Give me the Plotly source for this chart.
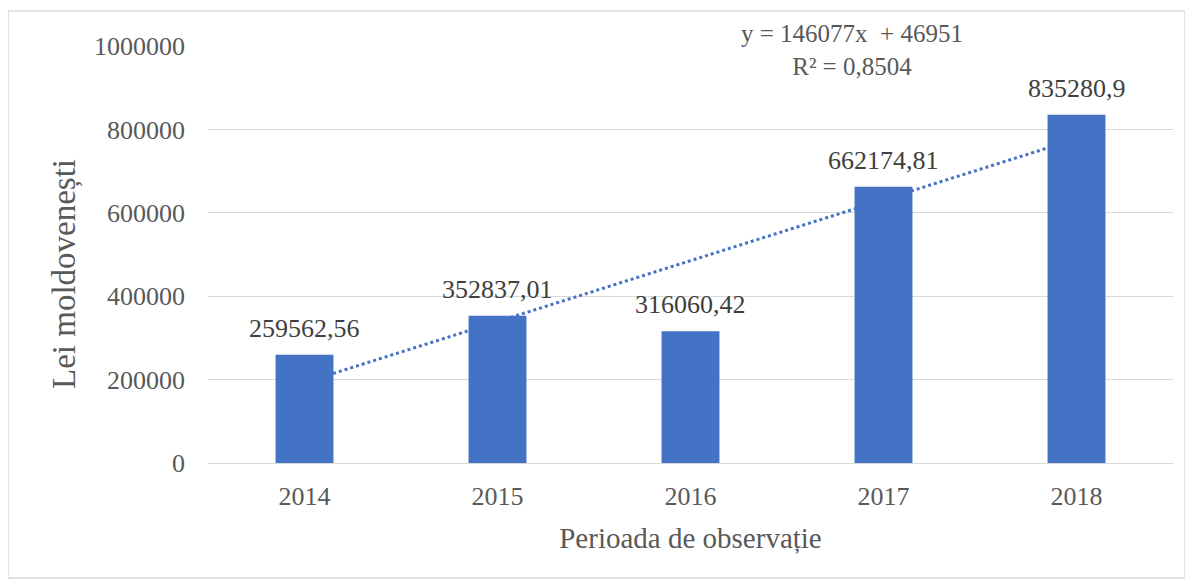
import numpy as np
import plotly.graph_objects as go

years = ["2014", "2015", "2016", "2017", "2018"]
values = [259562.56, 352837.01, 316060.42, 662174.81, 835280.9]
value_labels = ["259562,56", "352837,01", "316060,42", "662174,81", "835280,9"]
y_ticks = [0, 200000, 400000, 600000, 800000, 1000000]

# Linear trend, same as the Excel trendline (x = 1..n)
xs = np.arange(1, len(values) + 1)
slope, intercept = np.polyfit(xs, values, 1)
fitted = slope * xs + intercept
ss_res = np.sum((np.array(values) - fitted) ** 2)
ss_tot = np.sum((np.array(values) - np.mean(values)) ** 2)
r2 = 1 - ss_res / ss_tot

bar_color = "#4472C4"
grid_color = "#D9D9D9"
text_color = "#595959"
font_family = "Liberation Serif, Times New Roman, serif"

# the page body has an 8px margin, so the figure is drawn 8px in
off = 8
W, H = 1193 - off, 585 - off
left, right, top, bottom = 208 - off, 20, 46 - off, 122
plot_w = W - left - right
plot_h = H - top - bottom


def px_x(x):
    # reference pixel x -> paper coordinate
    return (x - off - left) / plot_w


def px_y(y):
    # reference pixel y -> paper coordinate
    return (H - bottom - (y - off)) / plot_h


fig = go.Figure()

# trendline on the base axes so the bars (overlay axes) cover it
fig.add_trace(
    go.Scatter(
        x=xs,
        y=fitted,
        mode="lines",
        line=dict(color=bar_color, width=3, dash="dot"),
        hoverinfo="skip",
        showlegend=False,
        xaxis="x",
        yaxis="y",
    )
)

fig.add_trace(
    go.Bar(
        x=xs,
        y=values,
        marker=dict(color=bar_color, line=dict(width=0)),
        showlegend=False,
        xaxis="x2",
        yaxis="y2",
    )
)

# value labels above the bars
for xv, yv, lab in zip(xs, values, value_labels):
    fig.add_annotation(
        x=xv,
        y=yv,
        xref="x2",
        yref="y2",
        text=lab,
        showarrow=False,
        yanchor="bottom",
        yshift=10,
        font=dict(family=font_family, size=26, color="#404040"),
    )

x_range = [0.5, len(values) + 0.5]
y_range = [0, 1000000]

fig.update_layout(
    width=W,
    height=H,
    margin={"l": left, "r": right, "t": top, "b": bottom, "autoexpand": False},
    paper_bgcolor="white",
    plot_bgcolor="white",
    bargap=0.7,
    font=dict(family=font_family, color=text_color),
    xaxis=dict(
        range=x_range,
        tickvals=list(xs),
        ticktext=years,
        tickfont=dict(size=26, color=text_color),
        showgrid=False,
        showline=True,
        linecolor=grid_color,
        linewidth=1,
        ticks="",
        ticklabelstandoff=10,
        automargin=False,
        title=dict(
            text="Perioada de observație",
            font=dict(size=29, color=text_color),
            standoff=17,
        ),
    ),
    yaxis=dict(
        range=y_range,
        tickvals=y_ticks,
        ticktext=[str(v) for v in y_ticks],
        tickfont=dict(size=26, color=text_color),
        showgrid=True,
        gridcolor=grid_color,
        gridwidth=1,
        zeroline=False,
        ticks="",
        ticklabelstandoff=22,
        automargin=False,
    ),
    xaxis2=dict(overlaying="x", range=x_range, visible=False),
    yaxis2=dict(overlaying="y", range=y_range, visible=False),
)

# y axis title, placed a bit below the plot centre like the reference
fig.add_annotation(
    x=px_x(64),
    y=px_y(274),
    xref="paper",
    yref="paper",
    xanchor="center",
    yanchor="middle",
    text="Lei moldovenești",
    textangle=-90,
    showarrow=False,
    font=dict(family=font_family, size=33, color=text_color),
)

# equation of the trendline
eq_text = "y = {:.0f}x  + {:.0f}<br>R² = {}".format(
    slope, intercept, "{:.4f}".format(r2).replace(".", ",")
)
fig.add_annotation(
    x=px_x(852),
    y=px_y(50),
    xref="paper",
    yref="paper",
    xanchor="center",
    yanchor="middle",
    text=eq_text,
    showarrow=False,
    font=dict(family=font_family, size=25, color=text_color),
    align="center",
)

# chart-area border
fig.add_shape(
    type="rect",
    xref="paper",
    yref="paper",
    x0=px_x(8),
    x1=px_x(1185),
    y0=px_y(578),
    y1=px_y(11),
    line=dict(color=grid_color, width=1.5),
    layer="below",
)

fig.write_html("out.html")
